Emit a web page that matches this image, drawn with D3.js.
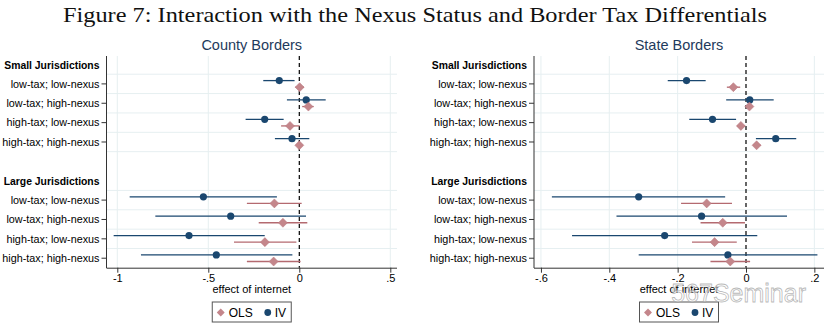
<!DOCTYPE html>
<html><head><meta charset="utf-8">
<script src="https://cdn.jsdelivr.net/npm/d3@7/dist/d3.min.js"></script>
<style>body{margin:0;background:#fff}svg{display:block}</style>
</head><body><svg id="c" width="832" height="326"></svg>
<script>
const rowLabels = ["low-tax; low-nexus","low-tax; high-nexus","high-tax; low-nexus","high-tax; high-nexus"];
const groupLabels = ["Small Jurisdictions","Large Jurisdictions"];
// County Borders: [small x4, large x4]
const countyIV    = [-0.11, 0.038, -0.19, -0.04, -0.527, -0.377, -0.606, -0.456];
const countyIVLo  = [-0.198, -0.068, -0.295, -0.134, -0.932, -0.791, -1.02, -0.87];
const countyIVHi  = [-0.026, 0.145, -0.086, 0.055, -0.123, 0.037, -0.19, -0.038];
const countyOLS   = [0.002, 0.05, -0.051, 0.0, -0.137, -0.09, -0.189, -0.141];
const countyOLSLo = [-0.022, 0.016, -0.1, -0.018, -0.288, -0.223, -0.359, -0.288];
const countyOLSHi = [0.026, 0.079, 0.002, 0.018, 0.013, 0.044, -0.016, 0.007];
// State Borders
const stateIV    = [-0.174, 0.011, -0.098, 0.087, -0.314, -0.13, -0.238, -0.053];
const stateIVLo  = [-0.229, -0.058, -0.166, 0.029, -0.568, -0.379, -0.509, -0.314];
const stateIVHi  = [-0.118, 0.081, -0.029, 0.147, -0.061, 0.12, 0.033, 0.209];
const stateOLS   = [-0.037, 0.01, -0.015, 0.031, -0.115, -0.068, -0.092, -0.046];
const stateOLSLo = [-0.056, 0.0, -0.026, 0.021, -0.19, -0.133, -0.158, -0.104];
const stateOLSHi = [-0.017, 0.019, -0.003, 0.043, -0.041, -0.003, -0.027, 0.012];
const countyTicks = [-1, -0.5, 0, 0.5];
const countyTickLabels = ["-1", "-.5", "0", ".5"];
const stateTicks = [-0.6, -0.4, -0.2, 0, 0.2];
const stateTickLabels = ["-.6", "-.4", "-.2", "0", ".2"];
const seriesNames = ["OLS", "IV"];
const figTitle = "Figure 7: Interaction with the Nexus Status and Border Tax Differentials";

const svg = d3.select("#c");
const IVC = "#1a476f", OLSC = "#b46a70", OLSF = "#c4868b", GRID = "#e6eff1";
const font = "Liberation Sans, Arial, sans-serif";

svg.append("text").attr("x", 415).attr("y", 22).attr("text-anchor", "middle")
  .attr("font-family", "Liberation Serif, DejaVu Serif, serif").attr("font-size", 21)
  .attr("textLength", 704).attr("lengthAdjust", "spacingAndGlyphs")
  .attr("fill", "#111").text(figTitle);

// slots: 0 header small, 1-4 rows, 6 header large, 7-10 rows
const rowSlots = [1,2,3,4,7,8,9,10];
const headerSlots = [0, 6];
const gridSlots = [0.5,1.5,2.5,3.5,4.5,6.5,7.5,8.5,9.5];
const y = d3.scaleLinear().domain([-0.44, 10.49]).range([56, 267.7]);

function panel(o) {
  const g = svg.append("g");
  const x = d3.scaleLinear().domain(o.domain).range(o.range);
  const L = o.left, R = o.right;
  g.selectAll(".hg").data(gridSlots).join("line")
    .attr("x1", L).attr("x2", R).attr("y1", d => y(d)).attr("y2", d => y(d))
    .attr("stroke", GRID).attr("stroke-width", 1);
  g.selectAll(".vg").data(o.ticks.filter(t => t !== 0)).join("line")
    .attr("x1", d => x(d)).attr("x2", d => x(d)).attr("y1", 56).attr("y2", 267.7)
    .attr("stroke", GRID).attr("stroke-width", 1);
  g.append("line").attr("x1", x(0)).attr("x2", x(0)).attr("y1", 56).attr("y2", 267.7)
    .attr("stroke", "#000").attr("stroke-width", 1.2).attr("stroke-dasharray", "4,3");
  g.append("text").attr("x", (L + R) / 2).attr("y", 50).attr("text-anchor", "middle")
    .attr("font-family", font).attr("font-size", 14.5).attr("fill", "#1e3a5c").text(o.title);
  const xa = g.append("g").attr("transform", `translate(0,267.7)`)
    .call(d3.axisBottom(x).tickValues(o.ticks).tickFormat((d, i) => o.tickLabels[i]).tickSize(5).tickPadding(2));
  xa.select(".domain").attr("d", `M${L},0.5H${R}`).attr("stroke", "#333");
  xa.selectAll("text").attr("font-family", font).attr("font-size", 11).attr("fill", "#000");
  xa.selectAll(".tick line").attr("stroke", "#333");
  g.append("line").attr("x1", L).attr("x2", L).attr("y1", 56).attr("y2", 268)
    .attr("stroke", "#333");
  rowSlots.forEach((s, i) => {
    g.append("line").attr("x1", L - 5).attr("x2", L).attr("y1", y(s)).attr("y2", y(s)).attr("stroke", "#333");
    g.append("text").attr("x", L - 7).attr("y", y(s)).attr("dy", "0.35em").attr("text-anchor", "end")
      .attr("font-family", font).attr("font-size", 10.8).attr("fill", "#000").text(rowLabels[i % 4]);
  });
  headerSlots.forEach((s, i) => {
    g.append("text").attr("x", L - 7).attr("y", y(s) + 1).attr("dy", "0.35em").attr("text-anchor", "end")
      .attr("font-family", font).attr("font-size", 10.4).attr("font-weight", "bold").attr("fill", "#000").text(groupLabels[i]);
  });
  g.append("text").attr("x", (L + R) / 2).attr("y", 293).attr("text-anchor", "middle")
    .attr("font-family", font).attr("font-size", 11).attr("fill", "#000").text("effect of internet");
  const off = 0.17;
  rowSlots.forEach((s, i) => {
    const yi = y(s - off), yo = y(s + off);
    g.append("line").attr("x1", x(o.ivLo[i])).attr("x2", x(o.ivHi[i])).attr("y1", yi).attr("y2", yi)
      .attr("stroke", IVC).attr("stroke-width", 1.3);
    g.append("line").attr("x1", x(o.olsLo[i])).attr("x2", x(o.olsHi[i])).attr("y1", yo).attr("y2", yo)
      .attr("stroke", OLSC).attr("stroke-width", 1.3);
    g.append("circle").attr("cx", x(o.iv[i])).attr("cy", yi).attr("r", 3.6).attr("fill", IVC);
    g.append("path").attr("d", d3.symbol(d3.symbolDiamond2, 52)())
      .attr("transform", `translate(${x(o.ols[i])},${yo})`).attr("fill", OLSF).attr("stroke", "#b87880").attr("stroke-width", 0.5);
  });
  const cx = (L + R) / 2;
  const lg = g.append("g").attr("transform", `translate(${cx - 40},301.5)`);
  lg.append("rect").attr("x", 0.5).attr("y", 0.5).attr("width", 79).attr("height", 20)
    .attr("fill", "#fff").attr("stroke", "#555");
  lg.append("path").attr("d", d3.symbol(d3.symbolDiamond2, 40)()).attr("transform", "translate(9,11)").attr("fill", OLSF);
  lg.append("text").attr("x", 17).attr("y", 11).attr("dy", "0.35em").attr("font-family", font).attr("font-size", 12).text(seriesNames[0]);
  lg.append("circle").attr("cx", 56).attr("cy", 11).attr("r", 3.4).attr("fill", IVC);
  lg.append("text").attr("x", 63).attr("y", 11).attr("dy", "0.35em").attr("font-family", font).attr("font-size", 12).text(seriesNames[1]);
}

panel({title: "County Borders", domain: [-0.5, 0], range: [208.3, 299.3], left: 106.5, right: 397,
  ticks: countyTicks, tickLabels: countyTickLabels,
  iv: countyIV, ivLo: countyIVLo, ivHi: countyIVHi, ols: countyOLS, olsLo: countyOLSLo, olsHi: countyOLSHi});
panel({title: "State Borders", domain: [-0.4, 0], range: [609.3, 746], left: 534, right: 824,
  ticks: stateTicks, tickLabels: stateTickLabels,
  iv: stateIV, ivLo: stateIVLo, ivHi: stateIVHi, ols: stateOLS, olsLo: stateOLSLo, olsHi: stateOLSHi});

// watermark
svg.append("text").attr("x", 806).attr("y", 302).attr("text-anchor", "end")
  .attr("font-family", font).attr("font-size", 25).attr("fill", "#fff").attr("fill-opacity", 0.55)
  .attr("stroke", "#999").attr("stroke-width", 0.8).attr("stroke-opacity", 0.7).text("567Seminar");
</script></body></html>
